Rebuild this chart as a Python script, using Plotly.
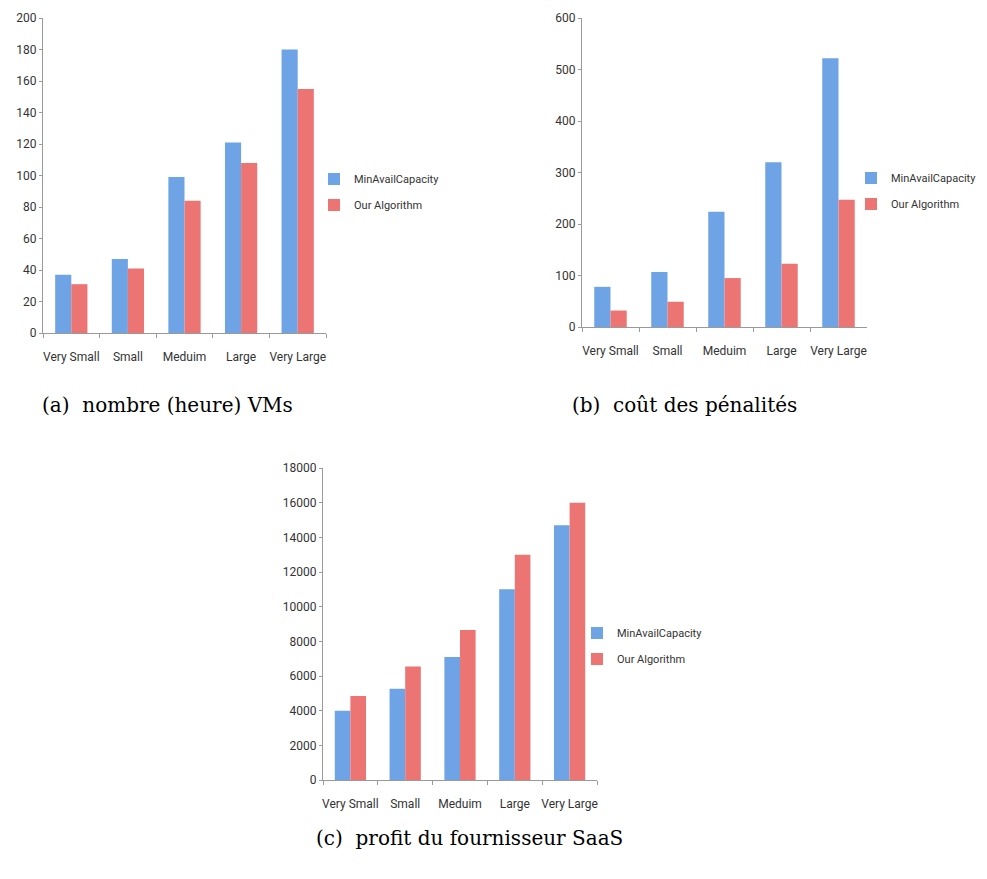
import plotly.graph_objects as go

categories = ['Very Small', 'Small', 'Meduim', 'Large', 'Very Large']

# (a) nombre (heure) VMs
vms_minavail = [37, 47, 99, 121, 180]
vms_ours = [31, 41, 84, 108, 155]

# (b) cout des penalites
pen_minavail = [78, 107, 224, 320, 522]
pen_ours = [32, 49, 95, 123, 247]

# (c) profit du fournisseur SaaS
profit_minavail = [4000, 5270, 7100, 11000, 14700]
profit_ours = [4850, 6550, 8650, 13000, 16000]

blue = '#6ea4e6'
red = '#ec7573'
tick_font = dict(family='Roboto, sans-serif', size=12, color='#333333')
caption_font = dict(family='DejaVu Serif, Liberation Serif, serif', size=20, color='black')

# page body has an 8px margin, so work in page pixels and convert
W, H = 979, 871


def fx(px):
    return (px - 8) / W


def fy(py):
    return 1 - (py - 8) / H


fig = go.Figure()

panels = [
    ('', 'legend', vms_minavail, vms_ours),
    ('2', 'legend2', pen_minavail, pen_ours),
    ('3', 'legend3', profit_minavail, profit_ours),
]
for ax, leg, blue_vals, red_vals in panels:
    fig.add_trace(go.Bar(x=categories, y=blue_vals, name='MinAvailCapacity',
                         marker=dict(color=blue, line=dict(width=0)),
                         xaxis='x' + ax, yaxis='y' + ax, legend=leg,
                         legendgroup='min' + ax))
    fig.add_trace(go.Bar(x=categories, y=red_vals, name='Our Algorithm',
                         marker=dict(color=red, line=dict(width=0)),
                         xaxis='x' + ax, yaxis='y' + ax, legend=leg,
                         legendgroup='ours' + ax))

xaxis_style = dict(showline=True, linecolor='#9a9a9a', linewidth=1, ticks='outside',
                   tickson='boundaries', ticklen=4, tickcolor='#9a9a9a',
                   showgrid=False, tickfont=tick_font, tickangle=0,
                   ticklabelstandoff=13, automargin=False)
yaxis_style = dict(showline=True, linecolor='#9a9a9a', linewidth=1, ticks='outside',
                   ticklen=3, tickcolor='#9a9a9a', showgrid=False, zeroline=False,
                   tickfont=tick_font, tickformat='d', automargin=False)

legend_style = dict(font=dict(family='Roboto, sans-serif', size=11, color='#333333'),
                    bgcolor='rgba(0,0,0,0)', itemwidth=30, tracegroupgap=7,
                    xanchor='left', yanchor='middle')

fig.update_layout(
    width=W, height=H,
    margin=dict(t=0, b=0, l=0, r=0),
    plot_bgcolor='white', paper_bgcolor='white',
    barmode='group', bargap=0.43, bargroupgap=0,
    xaxis=dict(domain=[fx(43), fx(326)], anchor='y', **xaxis_style),
    yaxis=dict(domain=[fy(333), fy(18)], anchor='x', range=[0, 200], dtick=20, **yaxis_style),
    xaxis2=dict(domain=[fx(582), fx(867)], anchor='y2', **xaxis_style),
    yaxis2=dict(domain=[fy(327), fy(18)], anchor='x2', range=[0, 600], dtick=100, **yaxis_style),
    xaxis3=dict(domain=[fx(323), fx(597)], anchor='y3', **xaxis_style),
    yaxis3=dict(domain=[fy(780), fy(468)], anchor='x3', range=[0, 18000], dtick=2000, **yaxis_style),
    legend=dict(x=fx(314), y=fy(192), **legend_style),
    legend2=dict(x=fx(851), y=fy(191), **legend_style),
    legend3=dict(x=fx(577), y=fy(646), **legend_style),
)

fig.add_annotation(text='(a)  nombre (heure) VMs', x=fx(167), y=fy(405),
                   xref='paper', yref='paper', xanchor='center', showarrow=False,
                   font=caption_font)
fig.add_annotation(text='(b)  coût des pénalités', x=fx(684), y=fy(405),
                   xref='paper', yref='paper', xanchor='center', showarrow=False,
                   font=caption_font)
fig.add_annotation(text='(c)  profit du fournisseur SaaS', x=fx(469), y=fy(852),
                   xref='paper', yref='paper', xanchor='center', showarrow=False,
                   font=caption_font)

fig.write_html('out.html')
